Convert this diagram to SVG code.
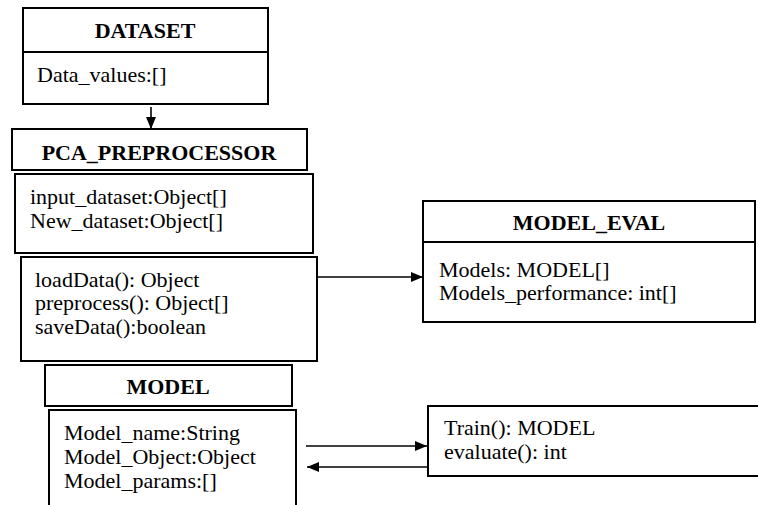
<svg xmlns="http://www.w3.org/2000/svg" width="758" height="505" viewBox="0 0 758 505">
<style>
.box{fill:#fff;stroke:#000;stroke-width:2}
.t{font-family:"Liberation Serif","Times New Roman",serif;font-size:22px;fill:#000}
.b{font-weight:bold;text-anchor:middle}
.c{stroke:#000;stroke-width:1.6;fill:none}
</style>
<defs>
<marker id="ah" viewBox="0 0 12 10" refX="12" refY="5" markerWidth="12" markerHeight="10" markerUnits="userSpaceOnUse" orient="auto">
<path d="M0,0 L12,5 L0,10 Z" fill="#000"/>
</marker>
</defs>
<rect width="758" height="505" fill="#fff"/>
<g id="dataset">
<rect class="box" x="23" y="8" width="245" height="96"/>
<line x1="23" y1="52" x2="268" y2="52" stroke="#000" stroke-width="2"/>
<text class="t b" x="145" y="38">DATASET</text>
<text class="t" x="37" y="82">Data_values:[]</text>
</g>
<g id="pca_title">
<rect class="box" x="12" y="129" width="295" height="41"/>
<text class="t b" x="159" y="160">PCA_PREPROCESSOR</text>
</g>
<g id="pca_attrs">
<rect class="box" x="15" y="174" width="298" height="79"/>
<text class="t" x="30" y="204">input_dataset:Object[]</text>
<text class="t" x="30" y="228">New_dataset:Object[]</text>
</g>
<g id="pca_methods">
<rect class="box" x="21" y="257" width="296" height="104"/>
<text class="t" x="35" y="287">loadData(): Object</text>
<text class="t" x="35" y="310">preprocess(): Object[]</text>
<text class="t" x="35" y="334">saveData():boolean</text>
</g>
<g id="model_eval">
<rect class="box" x="423" y="201" width="332" height="121"/>
<line x1="423" y1="242" x2="755" y2="242" stroke="#000" stroke-width="2"/>
<text class="t b" x="589" y="230">MODEL_EVAL</text>
<text class="t" x="439" y="277">Models: MODEL[]</text>
<text class="t" x="439" y="300">Models_performance: int[]</text>
</g>
<g id="model_title">
<rect class="box" x="45" y="365" width="247" height="41"/>
<text class="t b" x="168" y="394">MODEL</text>
</g>
<g id="model_attrs">
<rect class="box" x="49" y="410" width="247" height="110"/>
<text class="t" x="64" y="440">Model_name:String</text>
<text class="t" x="64" y="464">Model_Object:Object</text>
<text class="t" x="64" y="488">Model_params:[]</text>
</g>
<g id="model_methods">
<rect class="box" x="428" y="406" width="340" height="70"/>
<text class="t" x="444" y="435">Train(): MODEL</text>
<text class="t" x="444" y="459">evaluate(): int</text>
</g>
<g id="connectors">
<line class="c" x1="151" y1="107" x2="151" y2="129" marker-end="url(#ah)"/>
<line class="c" x1="318" y1="277" x2="423" y2="277" marker-end="url(#ah)"/>
<line class="c" x1="306" y1="446" x2="427" y2="446" marker-end="url(#ah)"/>
<line class="c" x1="427" y1="467" x2="307" y2="467" marker-end="url(#ah)"/>
</g>
</svg>
